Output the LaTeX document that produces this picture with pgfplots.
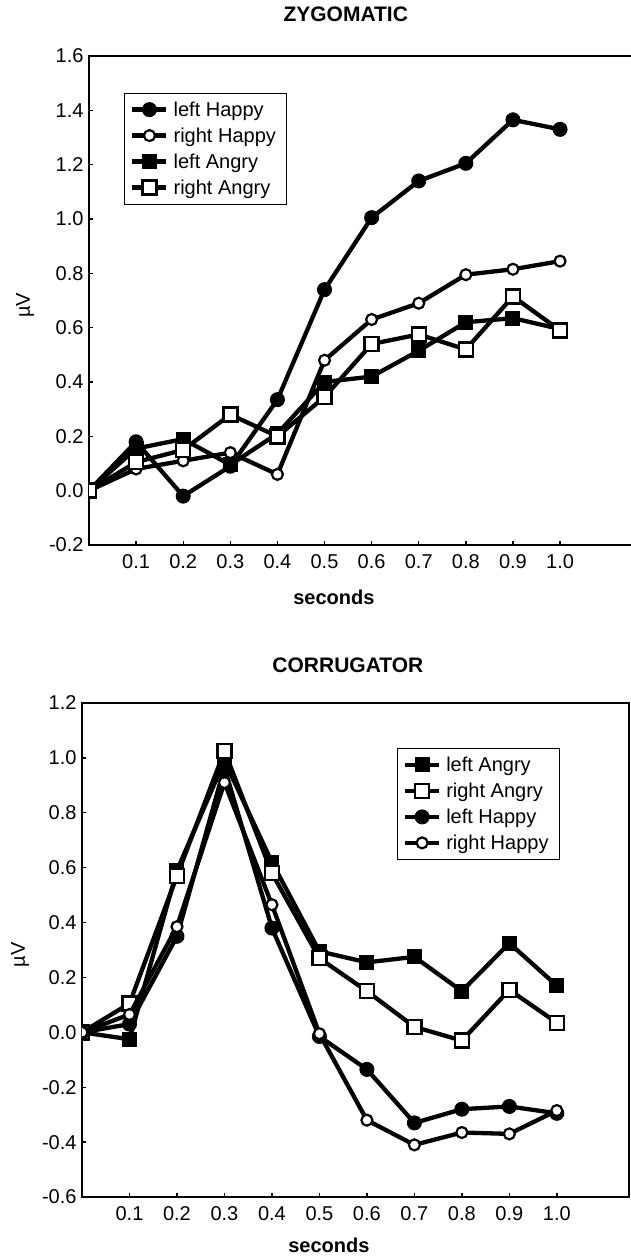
\documentclass[border=0pt]{standalone}
\usepackage{fontspec}
\setmainfont{Liberation Sans}
\usepackage{pgfplots}
\pgfplotsset{compat=1.18}

\tikzset{
  ser/.style={black, line width=4.3pt},
  fcirc/.style={ser, mark=*, mark size=7pt, mark options={fill=black, line width=1pt}},
  ocirc/.style={ser, mark=*, mark size=5.5pt, mark options={fill=white, draw=black, line width=2.2pt}},
  fsq/.style={ser, mark=square*, mark size=7pt, mark options={fill=black, line width=1pt}},
  osq/.style={ser, mark=square*, mark size=7pt, mark options={fill=white, draw=black, line width=2.4pt}},
}

\pgfplotsset{
  emg/.style={
    scale only axis,
    clip marker paths=true,
    axis line style={line width=1.8pt},
    tick style={line width=1.4pt, black},
    tick align=inside,
    major tick length=4pt,
    xtick pos=bottom, ytick pos=left,
    xmin=0,
    xtick={0.1,0.2,0.3,0.4,0.5,0.6,0.7,0.8,0.9,1.0},
    xticklabel style={font=\fontsize{20}{22}\selectfont, yshift=-6pt,
      /pgf/number format/.cd, fixed, fixed zerofill, precision=1, assume math mode=true},
    yticklabel style={font=\fontsize{20}{22}\selectfont, xshift=-2pt,
      /pgf/number format/.cd, fixed, fixed zerofill, precision=1, assume math mode=true},
    ylabel={µV},
    xlabel={seconds},
    xlabel style={font=\bfseries\fontsize{20}{22}\selectfont, anchor=base},
    ylabel style={font=\fontsize{20}{22}\selectfont, anchor=center},
    title style={font=\bfseries\fontsize{21}{24}\selectfont, anchor=base},
    legend cell align=left,
    legend image code/.code={\draw[mark repeat=2, mark phase=2]
      plot coordinates {(0pt,0pt) (17pt,0pt) (34pt,0pt)};},
    legend style={font=\fontsize{20}{22}\selectfont, anchor=north west,
      draw=black, line width=0.9pt, row sep=5pt, inner xsep=6pt, inner ysep=6pt,
      nodes={inner xsep=5pt, inner ysep=2.5pt}},
  }
}

\begin{document}
\begin{tikzpicture}
\useasboundingbox (0,0) rectangle (631pt,-1257pt);

% ZYGOMATIC
\begin{axis}[emg,
  at={(89pt,-545pt)}, anchor=south west,
  width=545pt, height=489pt,
  xmax=1.157, ymin=-0.2, ymax=1.6,
  ytick={-0.2,0,0.2,0.4,0.6,0.8,1.0,1.2,1.4,1.6},
  title={ZYGOMATIC},
  title style={at={(axis cs:0.545,1.6)}, yshift=28pt},
  xlabel style={at={(axis cs:0.52,-0.2)}, yshift=-59pt},
  ylabel style={at={(axis cs:0,0.683)}, yshift=64pt},
  legend style={at={(axis description cs:0.064,0.925)}},
]
\addplot[fcirc] coordinates {(0,0) (0.1,0.18) (0.2,-0.02) (0.3,0.09) (0.4,0.335) (0.5,0.74) (0.6,1.005) (0.7,1.14) (0.8,1.205) (0.9,1.365) (1.0,1.33)};
\addplot[ocirc] coordinates {(0,0) (0.1,0.08) (0.2,0.11) (0.3,0.14) (0.4,0.06) (0.5,0.48) (0.6,0.63) (0.7,0.69) (0.8,0.795) (0.9,0.815) (1.0,0.845)};
\addplot[fsq] coordinates {(0,0) (0.1,0.155) (0.2,0.19) (0.3,0.095) (0.4,0.21) (0.5,0.40) (0.6,0.42) (0.7,0.515) (0.8,0.62) (0.9,0.635) (1.0,0.595)};
\addplot[osq] coordinates {(0,0) (0.1,0.105) (0.2,0.15) (0.3,0.28) (0.4,0.20) (0.5,0.345) (0.6,0.54) (0.7,0.575) (0.8,0.52) (0.9,0.715) (1.0,0.59)};
\legend{left Happy, right Happy, left Angry, right Angry}
\end{axis}

% CORRUGATOR
\begin{axis}[emg,
  at={(82pt,-1197pt)}, anchor=south west,
  width=547pt, height=494pt,
  xmax=1.152, ymin=-0.6, ymax=1.2,
  ytick={-0.6,-0.4,-0.2,0,0.2,0.4,0.6,0.8,1.0,1.2},
  title={CORRUGATOR},
  title style={at={(axis cs:0.56,1.2)}, yshift=25pt},
  xlabel style={at={(axis cs:0.52,-0.6)}, yshift=-55pt},
  ylabel style={at={(axis cs:0,0.282)}, yshift=62pt},
  legend style={at={(axis description cs:0.575,0.909)}},
]
\addplot[fsq] coordinates {(0,0) (0.1,-0.025) (0.2,0.59) (0.3,0.99) (0.4,0.62) (0.5,0.295) (0.6,0.255) (0.7,0.275) (0.8,0.15) (0.9,0.325) (1.0,0.17)};
\addplot[osq] coordinates {(0,0) (0.1,0.105) (0.2,0.57) (0.3,1.025) (0.4,0.58) (0.5,0.27) (0.6,0.15) (0.7,0.02) (0.8,-0.03) (0.9,0.155) (1.0,0.035)};
\addplot[fcirc] coordinates {(0,0) (0.1,0.03) (0.2,0.35) (0.3,0.965) (0.4,0.38) (0.5,-0.015) (0.6,-0.135) (0.7,-0.33) (0.8,-0.28) (0.9,-0.27) (1.0,-0.295)};
\addplot[ocirc] coordinates {(0,0) (0.1,0.065) (0.2,0.385) (0.3,0.91) (0.4,0.465) (0.5,-0.005) (0.6,-0.32) (0.7,-0.41) (0.8,-0.365) (0.9,-0.37) (1.0,-0.285)};
\legend{left Angry, right Angry, left Happy, right Happy}
\end{axis}
\end{tikzpicture}
\end{document}
